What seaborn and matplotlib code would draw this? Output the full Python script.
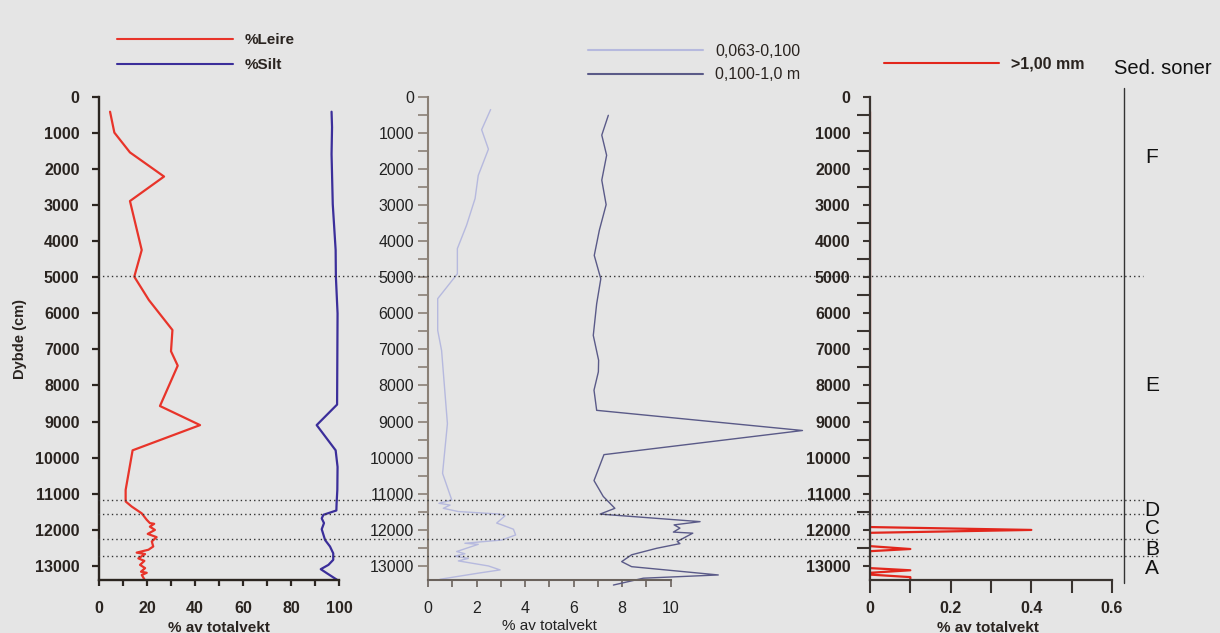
import numpy as np
import pandas as pd
import matplotlib
matplotlib.use("Agg")
import matplotlib.pyplot as plt
import seaborn as sns
from matplotlib.ticker import MultipleLocator, FixedLocator

# ---------------- data ----------------
leire_depth = [400, 980, 1530, 2200, 2880, 4240, 4980, 5630, 6460, 7050, 7450, 8570, 9100, 9800,
               10900, 11220, 11360, 11550, 11730, 11820, 11840, 11920, 12010, 12120, 12210, 12330,
               12470, 12560, 12640, 12680, 12800, 12870, 12980, 13070, 13170, 13200, 13260, 13380]
leire_pct = [4.6, 6.4, 12.9, 27.1, 12.9, 17.8, 14.7, 20.8, 30.6, 30.0, 32.8, 25.4, 42.1, 14.0,
             11.1, 11.1, 13.6, 17.8, 19.9, 21.2, 23.0, 21.2, 23.3, 20.3, 24.0, 22.0,
             22.6, 20.6, 15.7, 19.2, 16.4, 18.9, 17.1, 19.2, 17.5, 19.9, 17.8, 18.9]

silt_depth = [400, 830, 1580, 2970, 4240, 4980, 6000, 8530, 9100, 9800, 10260, 10900, 11270, 11470,
              11590, 11690, 11820, 11990, 12290, 12470, 12660, 12840, 12980, 13100, 13210, 13400]
silt_pct = [96.9, 97.1, 96.9, 97.4, 98.6, 98.7, 99.4, 99.2, 90.7, 98.6, 99.4, 99.3, 99.0, 98.9,
            93.5, 92.8, 93.75, 92.8, 94.2, 96.25, 97.6, 97.6, 95.6, 92.4, 94.9, 99.3]

fine_depth = [340, 900, 1440, 2170, 2810, 3550, 4200, 4900, 5590, 6470, 7030, 9060, 10440, 11180,
              11270, 11320, 11410, 11500, 11570, 11620, 11820, 11870, 11990, 12150, 12290, 12380,
              12410, 12610, 12670, 12740, 12800, 12870, 13010, 13120, 13210, 13380]
fine_pct = [2.58, 2.21, 2.49, 2.07, 1.94, 1.59, 1.21, 1.21, 0.40, 0.40, 0.56, 0.80, 0.60, 0.98,
            0.45, 0.91, 0.63, 1.25, 2.97, 3.17, 2.83, 3.04, 3.52, 3.61, 3.04, 1.52,
            2.07, 1.18, 1.52, 1.11, 1.66, 1.25, 2.49, 2.97, 2.07, 0.49]

coarse_depth = [500, 1050, 1610, 2300, 2980, 3690, 4390, 5040, 5730, 6610, 7300, 7620, 8130, 8690,
                9250, 9920, 10640, 11080, 11410, 11570, 11780, 11870, 11960, 12070, 12100, 12330,
                12390, 12520, 12700, 12890, 13030, 13260, 13350, 13540]
coarse_pct = [7.43, 7.16, 7.36, 7.16, 7.34, 7.06, 6.85, 7.12, 6.95, 6.81, 7.03, 7.02, 6.84, 6.95,
              15.43, 7.25, 6.84, 7.22, 7.70, 7.09, 11.21, 10.14, 10.38, 10.11, 10.91, 10.27,
              10.38, 9.42, 8.39, 7.98, 8.39, 11.96, 8.87, 7.64]

gravel_depth = [400, 11930, 12010, 12090, 12460, 12540, 12600, 13070, 13130, 13200, 13250, 13320, 13400]
gravel_pct = [0.0, 0.0, 0.40, 0.0, 0.0, 0.10, 0.0, 0.0, 0.10, 0.0, 0.0, 0.10, 0.10]

zone_bounds = [4950, 11190, 11580, 12270, 12740]
zone_labels = ["F", "E", "D", "C", "B", "A"]
zone_label_depth = [1670, 8000, 11470, 11970, 12560, 13080]

depth_ticks = list(range(0, 14000, 1000))

# ---------------- style ----------------
BG = "#e5e5e5"
sns.set_theme(style="ticks")
plt.rcParams["font.family"] = ["Liberation Sans", "DejaVu Sans"]
plt.rcParams["figure.facecolor"] = BG
plt.rcParams["axes.facecolor"] = BG
plt.rcParams["savefig.facecolor"] = BG

W, H = 1220, 633
fig = plt.figure(figsize=(W / 100, H / 100), dpi=100)

y_top_px, y_bot_px = 97.3, 580.0
bottom = 1 - y_bot_px / H
height = (y_bot_px - y_top_px) / H
YMAX = 13400

def px(x):
    return x / W

ax1 = fig.add_axes([px(99), bottom, px(240), height])
ax2 = fig.add_axes([px(428), bottom, px(15.6 * 24.27), height])
ax3 = fig.add_axes([px(870), bottom, px(242), height])

RED = "#e8342a"
BLUE = "#3b2e9a"
LIGHT = "#b6b9de"
DARK = "#5a5a88"
RED2 = "#e2261c"

# left panel
df_l = pd.DataFrame({"depth": leire_depth, "pct": leire_pct})
df_s = pd.DataFrame({"depth": silt_depth, "pct": silt_pct})
sns.lineplot(data=df_l, x="pct", y="depth", orient="y", sort=False, estimator=None,
             color=RED, lw=1.6, ax=ax1, label="%Leire")
sns.lineplot(data=df_s, x="pct", y="depth", orient="y", sort=False, estimator=None,
             color=BLUE, lw=1.6, ax=ax1, label="%Silt")

# middle panel
df_f = pd.DataFrame({"depth": fine_depth, "pct": fine_pct})
df_c = pd.DataFrame({"depth": coarse_depth, "pct": coarse_pct})
sns.lineplot(data=df_f, x="pct", y="depth", orient="y", sort=False, estimator=None,
             color=LIGHT, lw=1.0, ax=ax2, label="0,063-0,100")
sns.lineplot(data=df_c, x="pct", y="depth", orient="y", sort=False, estimator=None,
             color=DARK, lw=1.0, ax=ax2, label="0,100-1,0 m")
for ln in ax2.get_lines():
    ln.set_clip_on(False)

# right panel
df_g = pd.DataFrame({"depth": gravel_depth, "pct": gravel_pct})
sns.lineplot(data=df_g, x="pct", y="depth", orient="y", sort=False, estimator=None,
             color=RED2, lw=1.6, ax=ax3, label=">1,00 mm")

SP1 = "#2b2520"
SP2 = "#8a8076"
SP3 = "#3a3430"

for ax in (ax1, ax2, ax3):
    ax.set_ylim(YMAX, 0)
    ax.spines["top"].set_visible(False)
    ax.spines["right"].set_visible(False)
    ax.set_ylabel("")
    ax.yaxis.set_major_locator(FixedLocator(depth_ticks))

# ax1
ax1.set_xlim(0, 100)
ax1.xaxis.set_major_locator(MultipleLocator(20))
ax1.xaxis.set_minor_locator(MultipleLocator(10))
for s in ("left", "bottom"):
    ax1.spines[s].set_color(SP1)
    ax1.spines[s].set_linewidth(1.7)
ax1.tick_params(axis="y", which="major", length=5, width=1.6, color=SP1, pad=9,
                labelsize=11.5, labelcolor="#2a2420")
ax1.tick_params(axis="x", which="both", length=4, width=1.6, color=SP1, pad=11,
                labelsize=11.5, labelcolor="#2a2420")
for t in ax1.get_xticklabels() + ax1.get_yticklabels():
    t.set_fontweight("bold")
ax1.set_xlabel("% av totalvekt", fontsize=11, fontweight="bold", color="#2a2420", labelpad=1)
ax1.set_ylabel("Dybde (cm)", fontsize=10.5, fontweight="bold", color="#2a2420", labelpad=6)

# ax2
ax2.set_xlim(0, 15.6)
ax2.spines["bottom"].set_bounds(0, 10)
ax2.set_xticks([0, 2, 4, 6, 8, 10])
ax2.xaxis.set_minor_locator(FixedLocator(list(range(0, 11))))
ax2.yaxis.set_minor_locator(MultipleLocator(500))
for s in ("left", "bottom"):
    ax2.spines[s].set_color(SP2)
    ax2.spines[s].set_linewidth(1.5)
ax2.spines["bottom"].set_color("#6a625c")
ax2.tick_params(axis="y", which="both", length=7, width=1.2, color=SP2, pad=3,
                labelsize=11.5, labelcolor="#222222")
ax2.tick_params(axis="x", which="both", length=5, width=1.2, color="#6a625c", pad=10,
                labelsize=11.5, labelcolor="#222222")
ax2.set_xlabel("% av totalvekt", fontsize=11, color="#222222", labelpad=0)
ax2.xaxis.set_label_coords(121.5 / (15.6 * 24.27), -0.08)

# ax3
ax3.set_xlim(0, 0.6)
ax3.xaxis.set_major_locator(MultipleLocator(0.2))
ax3.xaxis.set_minor_locator(MultipleLocator(0.1))
ax3.yaxis.set_minor_locator(MultipleLocator(500))
ax3.xaxis.set_major_formatter(matplotlib.ticker.FuncFormatter(lambda v, p: "0" if v == 0 else f"{v:.1f}"))
for s in ("left", "bottom"):
    ax3.spines[s].set_color(SP3)
    ax3.spines[s].set_linewidth(1.6)
ax3.tick_params(axis="y", which="major", length=5, width=1.5, color=SP3, pad=9,
                labelsize=11.5, labelcolor="#2a2420")
ax3.tick_params(axis="y", which="minor", length=9.5, width=1.5, color=SP3)
ax3.tick_params(axis="x", which="both", length=9, width=1.5, color=SP3, pad=6,
                labelsize=11.5, labelcolor="#2a2420")
for t in ax3.get_xticklabels() + ax3.get_yticklabels():
    t.set_fontweight("bold")
ax3.set_xlabel("% av totalvekt", fontsize=11, fontweight="bold", color="#2a2420", labelpad=0)
ax3.xaxis.set_label_coords((988 - 870) / 242, -0.085)
ax1.xaxis.set_label_coords((219 - 99) / 240, -0.085)

# legends
def leg(ax, xpx, ypx, hl, bold, fs, spacing):
    lg = ax.legend(loc="upper left", bbox_to_anchor=(px(xpx), 1 - ypx / H),
                   bbox_transform=fig.transFigure, frameon=False, borderpad=0,
                   handlelength=hl, handletextpad=0.75, labelspacing=spacing,
                   borderaxespad=0, prop={"size": fs, "weight": "bold" if bold else "normal"})
    for t in lg.get_texts():
        t.set_color("#2a2420")
    for h in lg.get_lines():
        h.set_linewidth(1.5)
    return lg

leg(ax1, 117, 33, 7.6, True, 11, 0.75)
leg(ax2, 588, 44, 7.2, False, 11.5, 0.52)
leg(ax3, 884, 56.5, 7.2, True, 11.5, 0.5)

# overlay for zone boundaries
ov = fig.add_axes([0, bottom, 1, height])
ov.set_xlim(0, W)
ov.set_ylim(YMAX, 0)
ov.axis("off")
ends = [1143, 1145, 1145, 1158, 1158]
for d, e in zip(zone_bounds, ends):
    ov.plot([98, e], [d, d], ls=(0, (1, 2.2)), color="#333333", lw=1.0)
ov.plot([1124, 1124], [-250, 13480], color="#333333", lw=1.0, clip_on=False)
for lab, d in zip(zone_labels, zone_label_depth):
    ov.text(1152, d, lab, fontsize=15, ha="center", va="center", color="#111111")
fig.text(px(1114), 1 - 68 / H, "Sed. soner", fontsize=14.5, ha="left", va="center", color="#111111")

fig.savefig("out.png", dpi=100, facecolor=BG)
